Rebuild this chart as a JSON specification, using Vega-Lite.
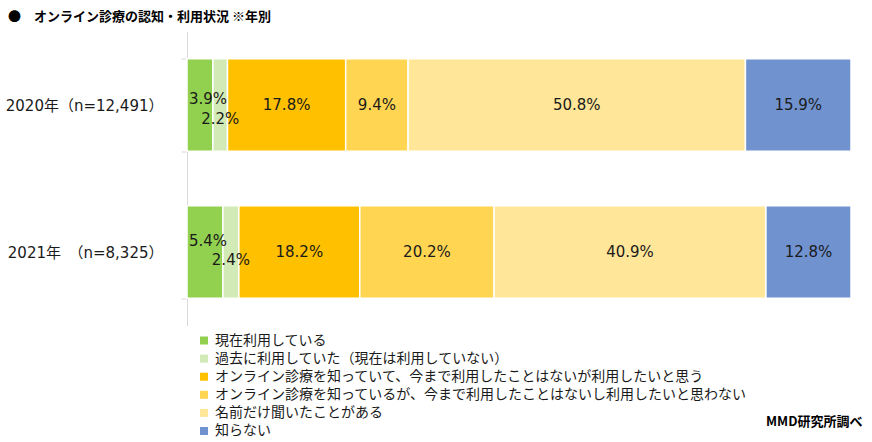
{
  "$schema": "https://vega.github.io/schema/vega-lite/v6.json",
  "width": 664,
  "height": 294,
  "autosize": {"type": "none"},
  "padding": {"left": 187, "top": 31.5, "right": 21, "bottom": 116.5},
  "background": "white",
  "title": {
    "text": "●　オンライン診療の認知・利用状況 ※年別",
    "anchor": "start",
    "frame": "group",
    "dx": -179,
    "offset": 9,
    "dy": 8,
    "font": "Noto Sans CJK JP",
    "fontSize": 13,
    "fontWeight": "bold",
    "color": "#000000"
  },
  "config": {
    "view": {"stroke": null},
    "font": "DejaVu Sans, Noto Sans CJK JP"
  },
  "data": {
    "values": [
      {"year": "2020年（n=12,491）", "cat": "現在利用している", "order": 1, "value": 3.9},
      {"year": "2020年（n=12,491）", "cat": "過去に利用していた（現在は利用していない）", "order": 2, "value": 2.2},
      {"year": "2020年（n=12,491）", "cat": "オンライン診療を知っていて、今まで利用したことはないが利用したいと思う", "order": 3, "value": 17.8},
      {"year": "2020年（n=12,491）", "cat": "オンライン診療を知っているが、今まで利用したことはないし利用したいと思わない", "order": 4, "value": 9.4},
      {"year": "2020年（n=12,491）", "cat": "名前だけ聞いたことがある", "order": 5, "value": 50.8},
      {"year": "2020年（n=12,491）", "cat": "知らない", "order": 6, "value": 15.9},
      {"year": "2021年　（n=8,325）", "cat": "現在利用している", "order": 1, "value": 5.4},
      {"year": "2021年　（n=8,325）", "cat": "過去に利用していた（現在は利用していない）", "order": 2, "value": 2.4},
      {"year": "2021年　（n=8,325）", "cat": "オンライン診療を知っていて、今まで利用したことはないが利用したいと思う", "order": 3, "value": 18.2},
      {"year": "2021年　（n=8,325）", "cat": "オンライン診療を知っているが、今まで利用したことはないし利用したいと思わない", "order": 4, "value": 20.2},
      {"year": "2021年　（n=8,325）", "cat": "名前だけ聞いたことがある", "order": 5, "value": 40.9},
      {"year": "2021年　（n=8,325）", "cat": "知らない", "order": 6, "value": 12.8}
    ]
  },
  "transform": [
    {"stack": "value", "groupby": ["year"], "sort": [{"field": "order"}], "offset": "normalize", "as": ["x0", "x1"]},
    {"calculate": "(datum.x0 + datum.x1) / 2", "as": "mid"},
    {"calculate": "format(datum.value, '.1f') + '%'", "as": "label"}
  ],
  "encoding": {
    "y": {
      "field": "year",
      "type": "nominal",
      "sort": null,
      "title": null,
      "scale": {"paddingInner": 0.37, "paddingOuter": 0.185},
      "axis": {
        "tickBand": "extent",
        "domainColor": "#d9d9d9",
        "tickColor": "#d9d9d9",
        "tickSize": 6,
        "labelPadding": 18,
        "labelFontSize": 15,
        "labelColor": "#1a1a1a",
        "labelFont": "DejaVu Sans, Noto Sans CJK JP"
      }
    }
  },
  "layer": [
    {
      "mark": {"type": "bar", "stroke": "white", "strokeWidth": 1.5},
      "encoding": {
        "x": {
          "field": "x0",
          "type": "quantitative",
          "scale": {"domain": [0, 1], "nice": false},
          "axis": {
            "domain": false,
            "ticks": false,
            "labels": false,
            "grid": false,
            "title": "MMD研究所調べ",
            "titleFont": "Noto Sans CJK JP",
            "titleFontSize": 13,
            "titleFontWeight": "bold",
            "titleColor": "#000000",
            "titleX": 675,
            "titleY": 96,
            "titleAlign": "right",
            "titleBaseline": "middle"
          }
        },
        "x2": {"field": "x1"},
        "color": {
          "field": "cat",
          "type": "nominal",
          "sort": null,
          "scale": {
            "domain": [
              "現在利用している",
              "過去に利用していた（現在は利用していない）",
              "オンライン診療を知っていて、今まで利用したことはないが利用したいと思う",
              "オンライン診療を知っているが、今まで利用したことはないし利用したいと思わない",
              "名前だけ聞いたことがある",
              "知らない"
            ],
            "range": ["#92d050", "#d2eab5", "#ffc000", "#ffd551", "#ffe699", "#7093d0"]
          },
          "legend": {
            "title": null,
            "orient": "none",
            "legendX": 10,
            "legendY": 302,
            "padding": 0,
            "symbolType": "square",
            "symbolSize": 64,
            "symbolStrokeWidth": 0,
            "labelFontSize": 14,
            "labelFont": "Noto Sans CJK JP",
            "labelColor": "#1a1a1a",
            "labelOffset": 4,
            "rowPadding": 4.1,
            "labelLimit": 700
          }
        }
      }
    },
    {
      "transform": [{"filter": "datum.order >= 3"}],
      "mark": {"type": "text", "fontSize": 15, "color": "#1a1a1a", "font": "DejaVu Sans"},
      "encoding": {"x": {"field": "mid", "type": "quantitative"}, "text": {"field": "label"}}
    },
    {
      "transform": [{"filter": "datum.order == 1 && datum.value == 3.9"}],
      "mark": {"type": "text", "fontSize": 15, "color": "#1a1a1a", "font": "DejaVu Sans", "dx": 8, "dy": -6},
      "encoding": {"x": {"field": "mid", "type": "quantitative"}, "text": {"field": "label"}}
    },
    {
      "transform": [{"filter": "datum.order == 2 && datum.value == 2.2"}],
      "mark": {"type": "text", "fontSize": 15, "color": "#1a1a1a", "font": "DejaVu Sans", "dx": 0, "dy": 14},
      "encoding": {"x": {"field": "mid", "type": "quantitative"}, "text": {"field": "label"}}
    },
    {
      "transform": [{"filter": "datum.order == 1 && datum.value == 5.4"}],
      "mark": {"type": "text", "fontSize": 15, "color": "#1a1a1a", "font": "DejaVu Sans", "dx": 3, "dy": -11},
      "encoding": {"x": {"field": "mid", "type": "quantitative"}, "text": {"field": "label"}}
    },
    {
      "transform": [{"filter": "datum.order == 2 && datum.value == 2.4"}],
      "mark": {"type": "text", "fontSize": 15, "color": "#1a1a1a", "font": "DejaVu Sans", "dx": 0, "dy": 8},
      "encoding": {"x": {"field": "mid", "type": "quantitative"}, "text": {"field": "label"}}
    }
  ]
}
